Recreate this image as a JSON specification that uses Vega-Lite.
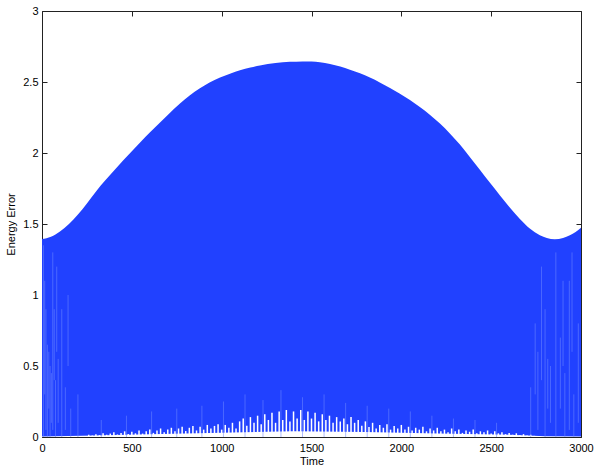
{
  "$schema": "https://vega.github.io/schema/vega-lite/v6.json",
  "width": 539,
  "height": 426,
  "autosize": "none",
  "padding": {"left": 42, "top": 11, "right": 18, "bottom": 34},
  "background": "white",
  "config": {
    "view": {"stroke": null},
    "font": "Liberation Sans",
    "axis": {
      "grid": false,
      "domainColor": "#222",
      "domainWidth": 1,
      "tickColor": "#222",
      "tickWidth": 1,
      "tickSize": -5,
      "labelFont": "Liberation Sans",
      "labelFontSize": 11,
      "labelColor": "#000",
      "titleFont": "Liberation Sans",
      "titleFontSize": 11,
      "titleFontWeight": "normal",
      "titleColor": "#000",
      "zindex": 1
    }
  },
  "datasets": {
    "env": [
      {"t": 0, "e": 1.394}, {"t": 50, "e": 1.41}, {"t": 100, "e": 1.448}, {"t": 150, "e": 1.5},
      {"t": 200, "e": 1.567}, {"t": 250, "e": 1.645}, {"t": 304, "e": 1.735}, {"t": 350, "e": 1.805},
      {"t": 400, "e": 1.875}, {"t": 450, "e": 1.945}, {"t": 500, "e": 2.013}, {"t": 550, "e": 2.08},
      {"t": 600, "e": 2.145}, {"t": 657, "e": 2.215}, {"t": 700, "e": 2.268}, {"t": 768, "e": 2.348},
      {"t": 820, "e": 2.403}, {"t": 879, "e": 2.456}, {"t": 930, "e": 2.495}, {"t": 991, "e": 2.532},
      {"t": 1050, "e": 2.56}, {"t": 1102, "e": 2.582}, {"t": 1160, "e": 2.602}, {"t": 1213, "e": 2.617},
      {"t": 1300, "e": 2.634}, {"t": 1380, "e": 2.642}, {"t": 1450, "e": 2.645}, {"t": 1500, "e": 2.644},
      {"t": 1547, "e": 2.639}, {"t": 1603, "e": 2.627}, {"t": 1660, "e": 2.609}, {"t": 1714, "e": 2.587},
      {"t": 1770, "e": 2.561}, {"t": 1825, "e": 2.531}, {"t": 1880, "e": 2.497}, {"t": 1937, "e": 2.458},
      {"t": 1990, "e": 2.419}, {"t": 2048, "e": 2.373}, {"t": 2103, "e": 2.324}, {"t": 2160, "e": 2.268},
      {"t": 2215, "e": 2.207}, {"t": 2270, "e": 2.138}, {"t": 2326, "e": 2.059}, {"t": 2380, "e": 1.974},
      {"t": 2437, "e": 1.882}, {"t": 2490, "e": 1.795}, {"t": 2548, "e": 1.703}, {"t": 2600, "e": 1.622},
      {"t": 2660, "e": 1.535}, {"t": 2715, "e": 1.468}, {"t": 2771, "e": 1.421}, {"t": 2810, "e": 1.401},
      {"t": 2854, "e": 1.392}, {"t": 2900, "e": 1.401}, {"t": 2938, "e": 1.42}, {"t": 2970, "e": 1.443},
      {"t": 3000, "e": 1.474}
    ],
    "base": [
      {"t": 0, "b": 0.003}, {"t": 300, "b": 0.01}, {"t": 600, "b": 0.02}, {"t": 1000, "b": 0.03},
      {"t": 1400, "b": 0.04}, {"t": 1800, "b": 0.035}, {"t": 2200, "b": 0.025}, {"t": 2600, "b": 0.015},
      {"t": 2800, "b": 0.005}, {"t": 3000, "b": 0.003}
    ],
    "spikes": [
      {"t": 260, "h": 0.016}, {"t": 280, "h": 0.01}, {"t": 300, "h": 0.02}, {"t": 320, "h": 0.013},
      {"t": 340, "h": 0.026}, {"t": 360, "h": 0.016}, {"t": 380, "h": 0.024}, {"t": 400, "h": 0.033},
      {"t": 420, "h": 0.018}, {"t": 440, "h": 0.029}, {"t": 460, "h": 0.04}, {"t": 480, "h": 0.021},
      {"t": 500, "h": 0.037}, {"t": 520, "h": 0.026}, {"t": 540, "h": 0.046}, {"t": 560, "h": 0.024},
      {"t": 580, "h": 0.04}, {"t": 600, "h": 0.052}, {"t": 620, "h": 0.029}, {"t": 640, "h": 0.046},
      {"t": 660, "h": 0.06}, {"t": 680, "h": 0.033}, {"t": 700, "h": 0.052}, {"t": 720, "h": 0.065},
      {"t": 740, "h": 0.04}, {"t": 760, "h": 0.06}, {"t": 780, "h": 0.072}, {"t": 800, "h": 0.042},
      {"t": 820, "h": 0.065}, {"t": 840, "h": 0.078}, {"t": 860, "h": 0.046}, {"t": 880, "h": 0.072},
      {"t": 900, "h": 0.052}, {"t": 920, "h": 0.085}, {"t": 940, "h": 0.06}, {"t": 960, "h": 0.078},
      {"t": 980, "h": 0.09}, {"t": 1000, "h": 0.052}, {"t": 1020, "h": 0.085}, {"t": 1040, "h": 0.065},
      {"t": 1060, "h": 0.1}, {"t": 1080, "h": 0.06}, {"t": 1100, "h": 0.11}, {"t": 1120, "h": 0.13},
      {"t": 1140, "h": 0.08}, {"t": 1160, "h": 0.14}, {"t": 1180, "h": 0.1}, {"t": 1200, "h": 0.15},
      {"t": 1220, "h": 0.09}, {"t": 1240, "h": 0.16}, {"t": 1260, "h": 0.12}, {"t": 1280, "h": 0.17},
      {"t": 1300, "h": 0.1}, {"t": 1320, "h": 0.18}, {"t": 1340, "h": 0.12}, {"t": 1360, "h": 0.19},
      {"t": 1380, "h": 0.11}, {"t": 1400, "h": 0.18}, {"t": 1420, "h": 0.13}, {"t": 1440, "h": 0.19},
      {"t": 1460, "h": 0.12}, {"t": 1480, "h": 0.18}, {"t": 1500, "h": 0.13}, {"t": 1520, "h": 0.17},
      {"t": 1540, "h": 0.11}, {"t": 1560, "h": 0.16}, {"t": 1580, "h": 0.12}, {"t": 1600, "h": 0.15},
      {"t": 1620, "h": 0.1}, {"t": 1640, "h": 0.14}, {"t": 1660, "h": 0.11}, {"t": 1680, "h": 0.13},
      {"t": 1700, "h": 0.09}, {"t": 1720, "h": 0.14}, {"t": 1740, "h": 0.1}, {"t": 1760, "h": 0.12},
      {"t": 1780, "h": 0.08}, {"t": 1800, "h": 0.11}, {"t": 1820, "h": 0.07}, {"t": 1840, "h": 0.1},
      {"t": 1860, "h": 0.06}, {"t": 1880, "h": 0.085}, {"t": 1900, "h": 0.065}, {"t": 1920, "h": 0.09},
      {"t": 1940, "h": 0.052}, {"t": 1960, "h": 0.078}, {"t": 1980, "h": 0.06}, {"t": 2000, "h": 0.085},
      {"t": 2020, "h": 0.052}, {"t": 2040, "h": 0.072}, {"t": 2060, "h": 0.046}, {"t": 2080, "h": 0.065},
      {"t": 2100, "h": 0.052}, {"t": 2120, "h": 0.072}, {"t": 2140, "h": 0.04}, {"t": 2160, "h": 0.06},
      {"t": 2180, "h": 0.046}, {"t": 2200, "h": 0.065}, {"t": 2220, "h": 0.04}, {"t": 2240, "h": 0.052},
      {"t": 2260, "h": 0.033}, {"t": 2280, "h": 0.06}, {"t": 2300, "h": 0.04}, {"t": 2320, "h": 0.052},
      {"t": 2340, "h": 0.029}, {"t": 2360, "h": 0.046}, {"t": 2380, "h": 0.037}, {"t": 2400, "h": 0.052},
      {"t": 2420, "h": 0.026}, {"t": 2440, "h": 0.04}, {"t": 2460, "h": 0.033}, {"t": 2480, "h": 0.046},
      {"t": 2500, "h": 0.024}, {"t": 2520, "h": 0.04}, {"t": 2540, "h": 0.026}, {"t": 2560, "h": 0.033},
      {"t": 2580, "h": 0.02}, {"t": 2600, "h": 0.029}, {"t": 2620, "h": 0.016}, {"t": 2640, "h": 0.026},
      {"t": 2660, "h": 0.013}, {"t": 2680, "h": 0.02}, {"t": 2700, "h": 0.01}, {"t": 2720, "h": 0.016},
      {"t": 2740, "h": 0.008}
    ],
    "streaks": [
      {"t": 8, "lo": 0.0, "hi": 1.35}, {"t": 15, "lo": 0.3, "hi": 1.1}, {"t": 22, "lo": 0.05, "hi": 0.9},
      {"t": 30, "lo": 0.0, "hi": 0.65}, {"t": 38, "lo": 0.2, "hi": 0.6}, {"t": 45, "lo": 0.0, "hi": 0.5},
      {"t": 52, "lo": 0.1, "hi": 0.45}, {"t": 60, "lo": 0.05, "hi": 1.3}, {"t": 68, "lo": 0.4, "hi": 0.9},
      {"t": 75, "lo": 0.0, "hi": 0.4}, {"t": 82, "lo": 0.6, "hi": 1.2}, {"t": 90, "lo": 0.1, "hi": 0.55},
      {"t": 110, "lo": 0.0, "hi": 0.9}, {"t": 130, "lo": 0.05, "hi": 0.35}, {"t": 145, "lo": 0.5, "hi": 1.0},
      {"t": 160, "lo": 0.0, "hi": 0.2}, {"t": 200, "lo": 0.0, "hi": 0.3},
      {"t": 330, "lo": 0.0, "hi": 0.12}, {"t": 470, "lo": 0.0, "hi": 0.15}, {"t": 610, "lo": 0.0, "hi": 0.18},
      {"t": 750, "lo": 0.0, "hi": 0.2}, {"t": 890, "lo": 0.0, "hi": 0.22}, {"t": 1010, "lo": 0.0, "hi": 0.25},
      {"t": 1130, "lo": 0.0, "hi": 0.3}, {"t": 1230, "lo": 0.0, "hi": 0.26}, {"t": 1330, "lo": 0.0, "hi": 0.33},
      {"t": 1450, "lo": 0.0, "hi": 0.28}, {"t": 1570, "lo": 0.0, "hi": 0.3}, {"t": 1690, "lo": 0.0, "hi": 0.24},
      {"t": 1810, "lo": 0.0, "hi": 0.22}, {"t": 1930, "lo": 0.0, "hi": 0.2}, {"t": 2050, "lo": 0.0, "hi": 0.18},
      {"t": 2170, "lo": 0.0, "hi": 0.15}, {"t": 2290, "lo": 0.0, "hi": 0.13}, {"t": 2410, "lo": 0.0, "hi": 0.12},
      {"t": 2530, "lo": 0.0, "hi": 0.1},
      {"t": 2720, "lo": 0.0, "hi": 0.35}, {"t": 2745, "lo": 0.3, "hi": 0.8}, {"t": 2760, "lo": 0.05, "hi": 0.6},
      {"t": 2780, "lo": 0.4, "hi": 1.2}, {"t": 2800, "lo": 0.0, "hi": 0.9}, {"t": 2815, "lo": 0.2, "hi": 0.55},
      {"t": 2830, "lo": 0.1, "hi": 0.5}, {"t": 2860, "lo": 0.0, "hi": 1.3}, {"t": 2885, "lo": 0.2, "hi": 0.7},
      {"t": 2900, "lo": 0.5, "hi": 1.1}, {"t": 2910, "lo": 0.0, "hi": 0.45}, {"t": 2935, "lo": 0.05, "hi": 1.1},
      {"t": 2950, "lo": 0.6, "hi": 1.3}, {"t": 2960, "lo": 0.0, "hi": 0.3}, {"t": 2985, "lo": 0.1, "hi": 0.8}
    ]
  },
  "layer": [
    {
      "data": {"name": "env"},
      "mark": {"type": "area", "color": "#2141ff", "interpolate": "monotone"},
      "encoding": {
        "x": {"field": "t", "type": "quantitative",
              "scale": {"domain": [0, 3000], "nice": false, "zero": false},
              "axis": {"orient": "bottom", "values": [0, 500, 1000, 1500, 2000, 2500, 3000], "format": "d",
                       "labelPadding": 10, "title": "Time", "titlePadding": 2, "labelFlush": false}},
        "y": {"field": "e", "type": "quantitative",
              "scale": {"domain": [0, 3], "nice": false},
              "axis": {"orient": "left", "values": [0, 0.5, 1, 1.5, 2, 2.5, 3], "format": "~g",
                       "labelPadding": 9, "title": "Energy Error", "titlePadding": 6, "labelFlush": false}}
      }
    },
    {
      "data": {"name": "base"},
      "mark": {"type": "area", "color": "white"},
      "encoding": {
        "x": {"field": "t", "type": "quantitative", "axis": null},
        "y": {"field": "b", "type": "quantitative", "axis": null}
      }
    },
    {
      "data": {"name": "spikes"},
      "mark": {"type": "rule", "color": "white", "strokeWidth": 1.5},
      "encoding": {
        "x": {"field": "t", "type": "quantitative", "axis": null},
        "y": {"field": "h", "type": "quantitative", "axis": null},
        "y2": {"datum": 0}
      }
    },
    {
      "data": {"name": "streaks"},
      "mark": {"type": "rule", "color": "#7088ff", "strokeWidth": 1, "opacity": 0.55},
      "encoding": {
        "x": {"field": "t", "type": "quantitative",
              "axis": {"orient": "top", "values": [0, 500, 1000, 1500, 2000, 2500, 3000], "labels": false, "title": null}},
        "y": {"field": "lo", "type": "quantitative",
              "axis": {"orient": "right", "values": [0, 0.5, 1, 1.5, 2, 2.5, 3], "labels": false, "title": null}},
        "y2": {"field": "hi"}
      }
    }
  ],
  "resolve": {"axis": {"x": "independent", "y": "independent"}}
}
